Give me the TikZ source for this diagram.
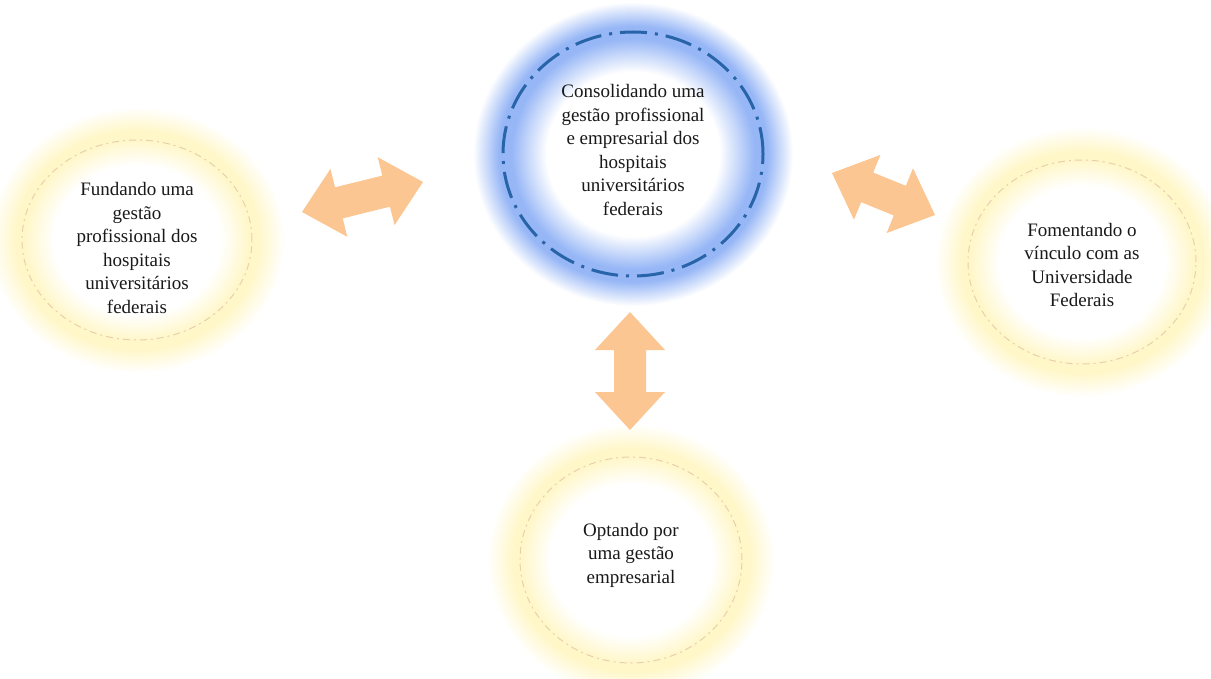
\documentclass[tikz,border=0pt]{standalone}
\usepackage{fontspec}
\setmainfont{Liberation Serif}
\usetikzlibrary{calc}

\definecolor{arrowfill}{RGB}{251,198,145}
\definecolor{glowyellow}{RGB}{255,247,200}
\definecolor{glowblue}{RGB}{150,182,246}
\definecolor{ringblue}{RGB}{40,100,168}
\definecolor{ringtan}{RGB}{232,208,175}
\definecolor{textgray}{RGB}{25,25,25}

% soft halos behind the circles (edge of the shaded ellipse = 25bp)
\pgfdeclareradialshading{yellowglow}{\pgfpoint{0bp}{0bp}}{%
  color(0bp)=(white); color(14bp)=(white); color(19bp)=(glowyellow);
  color(20.5bp)=(glowyellow); color(25bp)=(white); color(50bp)=(white)}
\pgfdeclareradialshading{blueglow}{\pgfpoint{0bp}{0bp}}{%
  color(0bp)=(white); color(13.5bp)=(white); color(19bp)=(glowblue);
  color(21bp)=(glowblue); color(25bp)=(white); color(50bp)=(white)}

\tikzset{
  circletext/.style={align=center, font=\fontsize{19}{23.5}\selectfont,
    text=textgray, inner sep=0pt},
  softring/.style={draw=ringtan, line width=1pt,
    dash pattern=on 7pt off 4pt on 2pt off 4pt},
  bluering/.style={draw=ringblue, line width=3pt,
    dash pattern=on 27pt off 8pt on 3pt off 8pt},
  blockarrow/.style={fill=arrowfill, draw=none},
}

% double-headed block arrow between two tip coordinates
\newcommand\blockarr[2]{%
  \coordinate (#1h) at ($(#1)!38pt!(#2)$);
  \coordinate (#2h) at ($(#2)!38pt!(#1)$);
  \fill[blockarrow] (#1)
    -- ($(#1h)!35pt!90:(#2)$) -- ($(#1h)!16pt!90:(#2)$)
    -- ($(#2h)!16pt!-90:(#1)$) -- ($(#2h)!35pt!-90:(#1)$)
    -- (#2)
    -- ($(#2h)!35pt!90:(#1)$) -- ($(#2h)!16pt!90:(#1)$)
    -- ($(#1h)!16pt!-90:(#2)$) -- ($(#1h)!35pt!-90:(#2)$)
    -- cycle;}

\begin{document}
\begin{tikzpicture}[x=1pt,y=-1pt]
\useasboundingbox (0,0) rectangle (1211,679);

% halos
\shade[shading=blueglow]   (633,154) ellipse [x radius=160pt, y radius=152pt];
\shade[shading=yellowglow] (137,240) ellipse [x radius=148pt, y radius=133pt];
\shade[shading=yellowglow] (1082,262) ellipse [x radius=147pt, y radius=135pt];
\shade[shading=yellowglow] (631,560) ellipse [x radius=144pt, y radius=136pt];

% rings
\draw[bluering] (633,154) ellipse [x radius=130pt, y radius=122pt];
\draw[softring] (137,240) ellipse [x radius=115pt, y radius=100pt];
\draw[softring] (1082,262) ellipse [x radius=114pt, y radius=102pt];
\draw[softring] (631,560) ellipse [x radius=111pt, y radius=103pt];

% texts
\node[circletext] (centre) at (633,150)
  {Consolidando uma\\gestão profissional\\e empresarial dos\\hospitais\\universitários\\federais};
\node[circletext] (fundando) at (137,248)
  {Fundando uma\\gestão\\profissional dos\\hospitais\\universitários\\federais};
\node[circletext] (fomentando) at (1082,265)
  {Fomentando o\\vínculo com as\\Universidade\\Federais};
\node[circletext] (optando) at (631,555)
  {Optando por\\uma gestão\\empresarial};

% arrows
\coordinate (la) at (302,212);
\coordinate (lb) at (423,182);
\coordinate (ra) at (832,173);
\coordinate (rb) at (935,215);
\coordinate (va) at (630,312);
\coordinate (vb) at (630,430);
\blockarr{la}{lb}
\blockarr{ra}{rb}
\blockarr{va}{vb}
\end{tikzpicture}
\end{document}
